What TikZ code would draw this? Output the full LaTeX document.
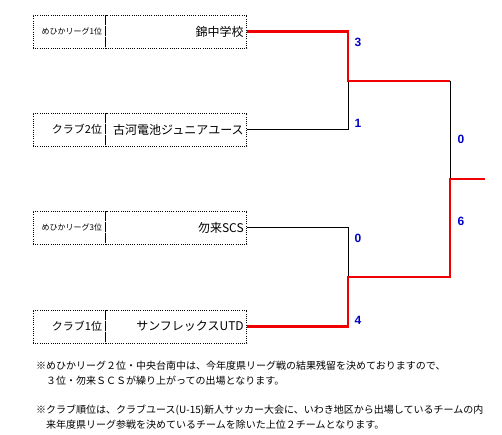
\documentclass[tikz,border=0pt]{standalone}
\usepackage{fontspec}
\setmainfont{Noto Sans CJK JP}
\newfontfamily\scorefont{Liberation Sans}
\usetikzlibrary{positioning,calc}
\definecolor{winred}{RGB}{240,0,0}
\definecolor{scoreblue}{RGB}{0,0,200}

\begin{document}
\begin{tikzpicture}[x=1pt, y=-1pt,
  cell/.style={draw, dash pattern=on 1pt off 1.2pt, line width=0.7pt,
               minimum height=33pt, inner sep=3pt, align=right},
  labelcell/.style={cell, text width=66pt, minimum width=72pt},
  teamcell/.style={cell, text width=135pt, minimum width=141pt, font=\fontsize{12}{14}\selectfont},
  win/.style={draw=winred, line width=2.6pt},
  lose/.style={draw=black, line width=0.8pt},
  score/.style={text=scoreblue, font=\scorefont\bfseries\fontsize{12}{14}\selectfont},
  note/.style={anchor=west, inner sep=0pt, font=\fontsize{10}{12}\selectfont}
]
  \useasboundingbox (0,0) rectangle (502,434);

  % entry boxes
  \node[labelcell, font=\fontsize{8}{10}\selectfont] (lbl1) at (69,31.5) {めひかリーグ1位};
  \node[teamcell, right=0pt of lbl1] (team1) {錦中学校};
  \node[labelcell, font=\fontsize{11}{13}\selectfont] (lbl2) at (69,129.5) {クラブ2位};
  \node[teamcell, right=0pt of lbl2] (team2) {古河電池ジュニアユース};
  \node[labelcell, font=\fontsize{8}{10}\selectfont] (lbl3) at (69,227.5) {めひかリーグ3位};
  \node[teamcell, right=0pt of lbl3] (team3) {勿来SCS};
  \node[labelcell, font=\fontsize{11}{13}\selectfont] (lbl4) at (69,326.5) {クラブ1位};
  \node[teamcell, right=0pt of lbl4] (team4) {サンフレックスUTD};

  % bracket joints
  \coordinate (semi1) at (348,81);
  \coordinate (semi2) at (348,277);
  \coordinate (up1) at (450,81);
  \coordinate (up2) at (450,277);
  \coordinate (final) at (450,179);
  \coordinate (champ) at (485,179);

  % losers first, winners on top
  \draw[lose] (team2.east) -| (semi1);
  \draw[lose] (team3.east) -| (semi2);
  \draw[lose] (up1) -- (final);
  \draw[win] (team1.east) -| (semi1) -- (up1);
  \draw[win] (team4.east) -| (semi2) -- (up2) -- (final) -- (champ);

  % scores
  \node[score] (sc1) at (358,42) {3};
  \node[score] (sc2) at (358,123) {1};
  \node[score] (sc3) at (358,238) {0};
  \node[score] (sc4) at (358,320) {4};
  \node[score] (sc5) at (461,139) {0};
  \node[score] (sc6) at (461,221) {6};

  % notes
  \node[note] (note1) at (36,366) {※めひかリーグ２位・中央台南中は、今年度県リーグ戦の結果残留を決めておりますので、};
  \node[note] (note2) at (46,381) {３位・勿来ＳＣＳが繰り上がっての出場となります。};
  \node[note] (note3) at (36,410) {※クラブ順位は、クラブユース(U-15)新人サッカー大会に、いわき地区から出場しているチームの内};
  \node[note] (note4) at (46,425) {来年度県リーグ参戦を決めているチームを除いた上位２チームとなります。};
\end{tikzpicture}
\end{document}
